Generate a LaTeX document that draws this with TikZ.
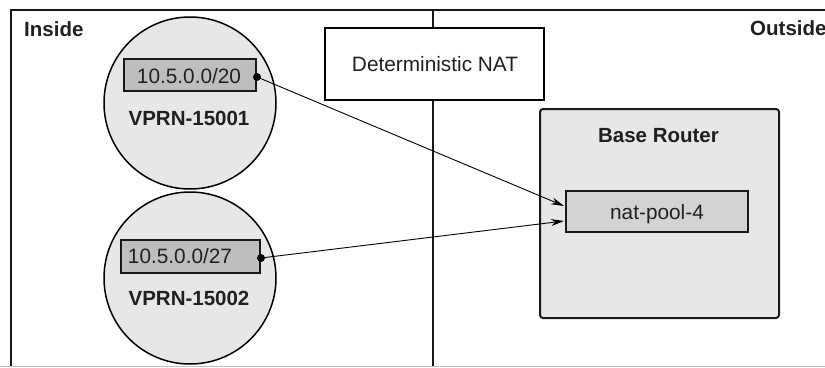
\documentclass[tikz,border=0pt]{standalone}
\usepackage{fontspec}
\setmainfont{Liberation Sans}
\usetikzlibrary{arrows.meta,calc}
\definecolor{lightfill}{HTML}{E6E7E8}
\definecolor{darkfill}{HTML}{BCBEC0}
\definecolor{midfill}{HTML}{D1D3D4}
\definecolor{inktext}{HTML}{231F20}
\tikzset{
  frameline/.style={line width=2pt, draw=black!90},
  vprn/.style={circle, draw=black, line width=1.5pt, fill=lightfill, minimum size=172pt, inner sep=0pt},
  pfxbox/.style={draw=black!90, line width=2pt, fill=darkfill, inner sep=0pt},
  plaintext/.style={font=\fontsize{20.8}{24}\selectfont, text=inktext, inner sep=0pt},
  boldtext/.style={font=\fontsize{20.5}{24}\selectfont\bfseries, text=inktext, inner sep=0pt},
  natbox/.style={draw=black, line width=2pt, fill=white, minimum width=219pt, minimum height=72pt, inner sep=0pt},
  routerbox/.style={draw=black!90, line width=2pt, fill=lightfill, rounded corners=3pt, minimum width=239pt, minimum height=209pt, inner sep=0pt},
  poolbox/.style={draw=black!90, line width=2pt, fill=midfill, minimum width=182pt, minimum height=41pt, inner sep=0pt},
  link/.style={line width=0.9pt, draw=black, -{Stealth[length=13pt,width=7pt]}},
  dotmark/.style={circle, fill=black, minimum size=8pt, inner sep=0pt}
}
\begin{document}
\begin{tikzpicture}[x=1pt, y=-1pt]
\useasboundingbox (0,0) rectangle (825,367);
% frame
\coordinate (ftl) at (11,10);
\coordinate (ftr) at (830,10);
\coordinate (fbl) at (11,367);
\coordinate (dtop) at (433,10);
\coordinate (dbot) at (433,367);
\draw[frameline] (fbl) -- (ftl) -- (ftr);
\draw[frameline] (dtop) -- (dbot);
\draw[gray!50, line width=1pt] (0,366.5) -- (825,366.5);
\node[boldtext, anchor=base west] (inside) at (24,36) {Inside};
\node[boldtext, anchor=base west] (outside) at (750,35) {Outside};
% NAT box
\node[natbox] (nat) at (434.5,64) {};
\node[plaintext, anchor=base] (natlbl) at (435,71) {Deterministic NAT};
% circles
\node[vprn] (c1) at (190,103) {};
\node[vprn] (c2) at (190,278) {};
\node[pfxbox, minimum width=132pt, minimum height=32pt] (p1) at (190,75) {};
\node[plaintext, anchor=base] (p1lbl) at (189,83) {10.5.0.0/20};
\node[boldtext, anchor=base] (v1) at (189,125) {VPRN-15001};
\node[pfxbox, minimum width=139pt, minimum height=33pt] (p2) at (190.5,256.5) {};
\node[plaintext, anchor=base] (p2lbl) at (180,263) {10.5.0.0/27};
\node[boldtext, anchor=base] (v2) at (189,305) {VPRN-15002};
% router
\node[routerbox] (br) at (659.5,213.5) {};
\node[boldtext, anchor=base] (brlbl) at (658.5,142) {Base Router};
\node[poolbox] (np) at (657,211.5) {};
\node[plaintext, anchor=base] (nplbl) at (657,219) {nat-pool-4};
% connectors
\node[dotmark] (d1) at ($(p1.east)+(0,2)$) {};
\node[dotmark] (d2) at ($(p2.east)+(0,1.5)$) {};
\coordinate (t1) at ($(np.west)+(-1,-5.5)$);
\coordinate (t2) at ($(np.west)+(-1,9.5)$);
\draw[link] (d1.center) -- (t1);
\draw[link] (d2.center) -- (t2);
\end{tikzpicture}
\end{document}
